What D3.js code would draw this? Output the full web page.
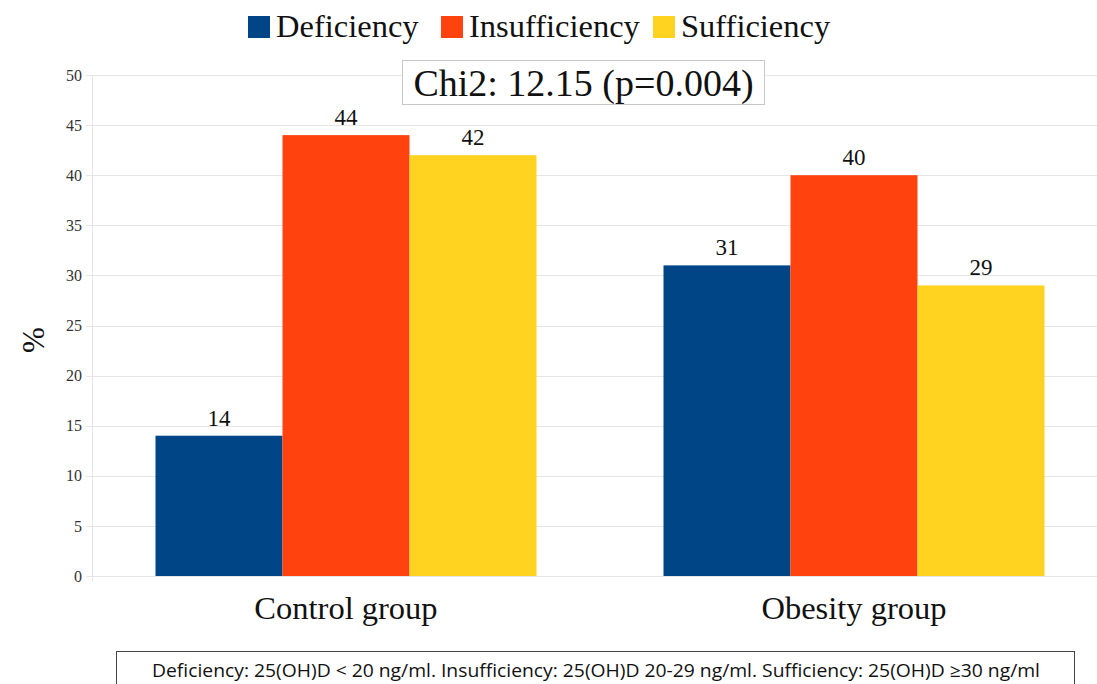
<!DOCTYPE html>
<html>
<head>
<meta charset="utf-8">
<script src="https://cdn.jsdelivr.net/npm/d3@7"></script>
<style>
  html, body { margin: 0; padding: 0; background: #fff; }
  svg { display: block; }
</style>
</head>
<body>
<svg id="chart" width="1097" height="684"></svg>
<script>
// Vitamin D status by group (%)
const groups = ["Control group", "Obesity group"];
const seriesNames = ["Deficiency", "Insufficiency", "Sufficiency"];
const deficiency = [14, 31];
const insufficiency = [44, 40];
const sufficiency = [42, 29];
const yTicks = [0, 5, 10, 15, 20, 25, 30, 35, 40, 45, 50];
const colors = ["#004586", "#ff420e", "#ffd320"];
const statText = "Chi2: 12.15 (p=0.004)";
const footnote = "Deficiency: 25(OH)D < 20 ng/ml. Insufficiency: 25(OH)D 20-29 ng/ml. Sufficiency: 25(OH)D \u226530 ng/ml";

const seriesValues = [deficiency, insufficiency, sufficiency];
const rows = groups.map((g, i) => ({
  group: g,
  values: seriesNames.map((s, j) => ({ key: s, value: seriesValues[j][i], color: colors[j] }))
}));

const svg = d3.select("#chart");
const serif = "'Liberation Serif', 'Times New Roman', serif";

const plot = { left: 92, right: 1108, top: 75, bottom: 576 };

const y = d3.scaleLinear().domain([0, 50]).range([plot.bottom, plot.top]);
const x0 = d3.scaleBand().domain(groups).range([plot.left, plot.right])
  .paddingInner(0.25).paddingOuter(0.125);
const x1 = d3.scaleBand().domain(seriesNames).range([0, x0.bandwidth()]).padding(0);

// Gridlines
svg.append("g")
  .selectAll("line")
  .data(yTicks)
  .join("line")
  .attr("x1", plot.left - 6)
  .attr("x2", 1097)
  .attr("y1", d => Math.round(y(d)) + 0.5)
  .attr("y2", d => Math.round(y(d)) + 0.5)
  .attr("stroke", "#e6e6e6")
  .attr("stroke-width", 1);

// Y axis line
svg.append("line")
  .attr("x1", plot.left + 0.5).attr("x2", plot.left + 0.5)
  .attr("y1", plot.top).attr("y2", plot.bottom + 5)
  .attr("stroke", "#e6e6e6");

// Y tick labels
svg.append("g")
  .selectAll("text")
  .data(yTicks)
  .join("text")
  .attr("x", plot.left - 10)
  .attr("y", d => y(d))
  .attr("dy", "0.35em")
  .attr("text-anchor", "end")
  .attr("font-family", serif)
  .attr("font-size", 16)
  .attr("fill", "#333")
  .text(d => d);

// Bars
const gGroups = svg.append("g")
  .selectAll("g")
  .data(rows)
  .join("g")
  .attr("transform", d => `translate(${x0(d.group)},0)`);

gGroups.selectAll("rect")
  .data(d => d.values)
  .join("rect")
  .attr("x", d => x1(d.key))
  .attr("y", d => y(d.value))
  .attr("width", x1.bandwidth())
  .attr("height", d => y(0) - y(d.value))
  .attr("fill", d => d.color);

// Value labels
gGroups.selectAll("text")
  .data(d => d.values)
  .join("text")
  .attr("x", d => x1(d.key) + x1.bandwidth() / 2)
  .attr("y", d => y(d.value) - 10)
  .attr("text-anchor", "middle")
  .attr("font-family", serif)
  .attr("font-size", 23)
  .attr("fill", "#111")
  .text(d => d.value);

// Group labels
svg.append("g")
  .selectAll("text")
  .data(groups)
  .join("text")
  .attr("x", d => x0(d) + x0.bandwidth() / 2)
  .attr("y", 619)
  .attr("text-anchor", "middle")
  .attr("font-family", serif)
  .attr("font-size", 32.5)
  .attr("fill", "#111")
  .text(d => d);

// Y axis title
svg.append("text")
  .attr("transform", "translate(44,340) rotate(-90)")
  .attr("text-anchor", "middle")
  .attr("font-family", serif)
  .attr("font-size", 31)
  .attr("fill", "#111")
  .text("%");

// Legend
const legendItems = [
  { name: seriesNames[0], color: colors[0], x: 248 },
  { name: seriesNames[1], color: colors[1], x: 441 },
  { name: seriesNames[2], color: colors[2], x: 653 }
];
const legend = svg.append("g")
  .selectAll("g")
  .data(legendItems)
  .join("g")
  .attr("transform", d => `translate(${d.x},0)`);
legend.append("rect")
  .attr("x", 0).attr("y", 16)
  .attr("width", 22).attr("height", 22)
  .attr("fill", d => d.color);
legend.append("text")
  .attr("x", 28).attr("y", 37)
  .attr("font-family", serif)
  .attr("font-size", 32.5)
  .attr("fill", "#111")
  .text(d => d.name);

// Test statistic box
svg.append("rect")
  .attr("x", 402.5).attr("y", 60.5)
  .attr("width", 362).attr("height", 44)
  .attr("fill", "#fff")
  .attr("stroke", "#c8c8c8");
svg.append("text")
  .attr("x", 583.5).attr("y", 96)
  .attr("text-anchor", "middle")
  .attr("font-family", serif)
  .attr("font-size", 38)
  .attr("fill", "#111")
  .text(statText);

// Footnote box
svg.append("rect")
  .attr("x", 116.5).attr("y", 651.5)
  .attr("width", 958).attr("height", 50)
  .attr("fill", "#fff")
  .attr("stroke", "#444");
svg.append("text")
  .attr("x", 152).attr("y", 677)
  .attr("font-family", "'Open Sans', 'Liberation Sans', sans-serif")
  .attr("font-size", 18)
  .attr("textLength", 888)
  .attr("lengthAdjust", "spacingAndGlyphs")
  .attr("fill", "#111")
  .text(footnote);
</script>
</body>
</html>
